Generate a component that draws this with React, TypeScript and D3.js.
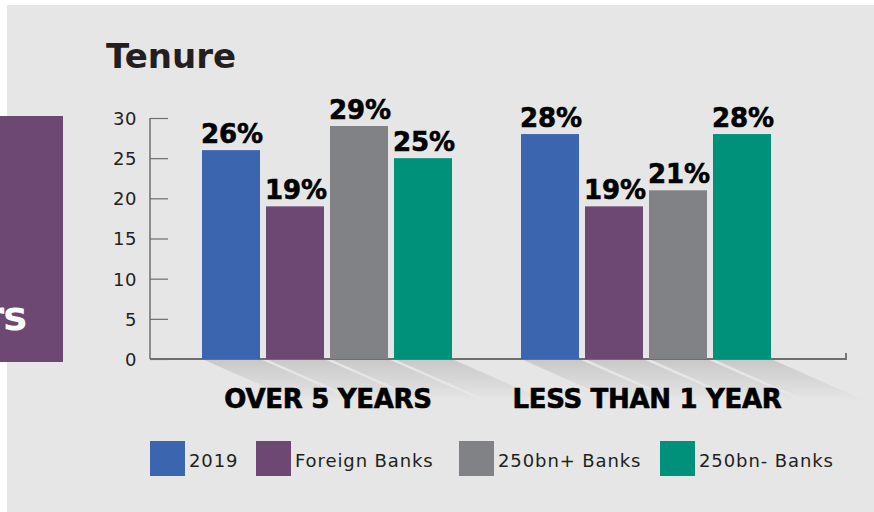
import React, { useRef, useEffect } from 'react';
import { select, scaleBand, scaleLinear, axisLeft } from 'd3';

const categories = ['OVER 5 YEARS', 'LESS THAN 1 YEAR'];
const seriesNames = ['2019', 'Foreign Banks', '250bn+ Banks', '250bn- Banks'];
const values2019 = [26, 28];
const valuesForeign = [19, 19];
const valuesBig = [29, 21];
const valuesSmall = [25, 28];
const yTicks = [0, 5, 10, 15, 20, 25, 30];
const colors = ['#3b65ae', '#6c4873', '#818285', '#00917a'];

const W = 874;
const H = 512;

const App = () => {
  const svgRef = useRef(null);

  useEffect(() => {
    const svg = select(svgRef.current);
    svg.selectAll('*').remove();

    const series = [values2019, valuesForeign, valuesBig, valuesSmall];

    const y = scaleLinear().domain([0, 30]).range([359, 118]);
    const x0 = scaleBand().domain(categories).range([202, 771]).paddingInner(69 / 319);
    const x1 = scaleBand()
      .domain(seriesNames)
      .range([0, x0.bandwidth()])
      .paddingInner(6 / 64);

    // background
    svg.append('rect').attr('x', 0).attr('y', 0).attr('width', W).attr('height', H).attr('fill', '#ffffff');
    svg.append('rect').attr('x', 7).attr('y', 5).attr('width', W - 7).attr('height', H - 5).attr('fill', '#e6e6e6');

    // purple side panel (cut off at the left edge)
    svg.append('rect').attr('x', 0).attr('y', 116).attr('width', 63).attr('height', 246).attr('fill', '#6c4873');
    svg
      .append('text')
      .attr('x', 26)
      .attr('y', 330)
      .attr('text-anchor', 'end')
      .attr('fill', '#ffffff')
      .style('font', 'bold 40px "DejaVu Sans"')
      .style('letter-spacing', '-1px')
      .text('rs');

    // title
    svg
      .append('text')
      .attr('x', 106)
      .attr('y', 68)
      .attr('fill', '#231f20')
      .style('font', 'bold 34px "DejaVu Sans"')
      .text('Tenure');

    // shadows below the axis
    const defs = svg.append('defs');
    const grad = defs
      .append('linearGradient')
      .attr('id', 'shadow')
      .attr('x1', 0)
      .attr('y1', 0)
      .attr('x2', 0)
      .attr('y2', 1);
    grad.append('stop').attr('offset', '0%').attr('stop-color', '#000').attr('stop-opacity', 0.13);
    grad.append('stop').attr('offset', '100%').attr('stop-color', '#000').attr('stop-opacity', 0);

    const shadowG = svg.append('g');
    categories.forEach((cat) => {
      seriesNames.forEach((name) => {
        const bx = (x0(cat) || 0) + (x1(name) || 0);
        const bw = x1.bandwidth();
        const b = y(0);
        shadowG
          .append('path')
          .attr('d', `M${bx},${b}L${bx + bw},${b}L${bx + bw + 95},${b + 42}L${bx + 95},${b + 42}Z`)
          .attr('fill', 'url(#shadow)');
      });
    });

    // y axis
    const yAxis = axisLeft(y).tickValues(yTicks).tickSize(-18).tickPadding(13);
    const gy = svg.append('g').attr('transform', 'translate(150,0)').call(yAxis);
    gy.select('.domain').attr('stroke', '#6d6e70').attr('stroke-width', 1.5).attr('d', 'M0,118V359');
    gy.selectAll('.tick line').attr('stroke', '#6d6e70').attr('stroke-width', 1.2);
    gy.selectAll('.tick text')
      .attr('fill', '#231f20')
      .style('font', '18px "DejaVu Sans"')
      .style('letter-spacing', '0.5px')
      .attr('dy', '0.36em');

    // x axis line
    svg
      .append('path')
      .attr('d', `M150,${y(0)}H846V${y(0) - 6}`)
      .attr('fill', 'none')
      .attr('stroke', '#6d6e70')
      .attr('stroke-width', 1.8);

    // bars
    const groups = svg
      .selectAll('.grp')
      .data(categories)
      .join('g')
      .attr('class', 'grp')
      .attr('transform', (d) => `translate(${x0(d)},0)`);

    groups.each(function (cat, ci) {
      const g = select(this);
      seriesNames.forEach((name, si) => {
        const v = series[si][ci];
        g.append('rect')
          .attr('x', x1(name) || 0)
          .attr('y', y(v))
          .attr('width', x1.bandwidth())
          .attr('height', y(0) - y(v))
          .attr('fill', colors[si]);
        g.append('text')
          .attr('x', (x1(name) || 0) + x1.bandwidth() / 2 + 1)
          .attr('y', y(v) - 7)
          .attr('text-anchor', 'middle')
          .attr('fill', '#000')
          .attr('stroke', '#000')
          .attr('stroke-width', 0.6)
          .style('font', 'bold 26px "DejaVu Sans"')
          .text(`${v}%`);
      });
      g.append('text')
        .attr('x', x0.bandwidth() / 2 + 1)
        .attr('y', 408)
        .attr('text-anchor', 'middle')
        .attr('fill', '#000')
        .attr('stroke', '#000')
        .attr('stroke-width', 0.6)
        .style('font', 'bold 26px "DejaVu Sans"')
        .style('letter-spacing', '-0.3px')
        .text(cat);
    });

    // legend
    const legendX = [150, 256, 459, 660];
    const lg = svg.append('g');
    seriesNames.forEach((name, i) => {
      lg.append('rect')
        .attr('x', legendX[i])
        .attr('y', 441)
        .attr('width', 35)
        .attr('height', 35)
        .attr('fill', colors[i]);
      lg.append('text')
        .attr('x', legendX[i] + 39)
        .attr('y', 467)
        .attr('fill', '#231f20')
        .style('font', '18px "DejaVu Sans"')
        .style('letter-spacing', '0.9px')
        .text(name);
    });
  }, []);

  return (
    <svg
      ref={svgRef}
      width={W}
      height={H}
      style={{ position: 'absolute', left: 0, top: 0, display: 'block' }}
    />
  );
};

export default App;
